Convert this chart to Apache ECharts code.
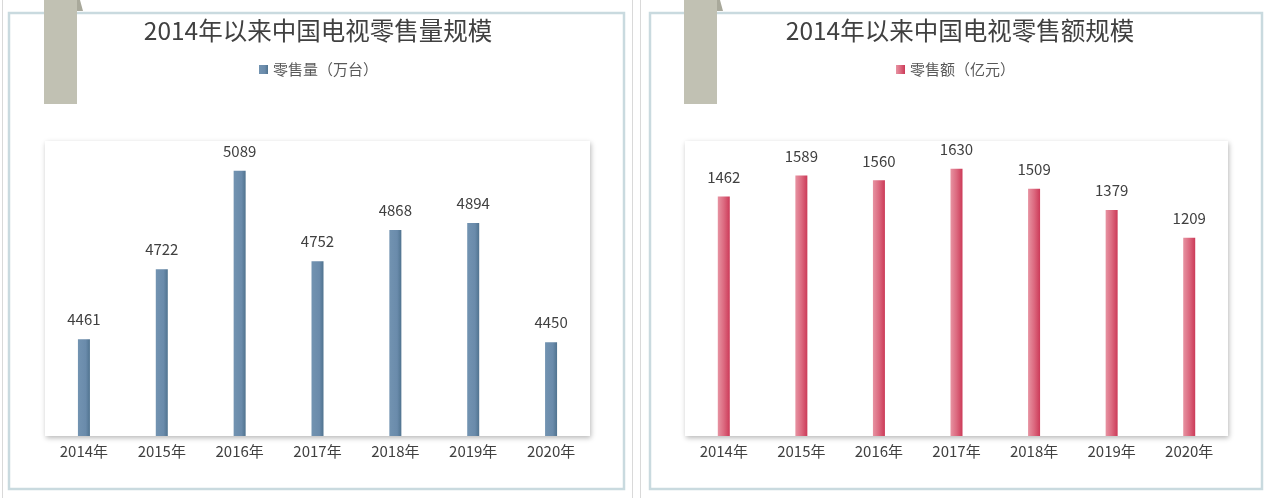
<!DOCTYPE html>
<html>
<head>
<meta charset="utf-8">
<script src="https://cdn.jsdelivr.net/npm/echarts@6/dist/echarts.min.js"></script>
<style>
html,body{margin:0;padding:0;background:#fff;}
#c{width:1269px;height:498px;}
</style>
</head>
<body>
<div id="c"></div>
<script>
var categories = ['2014年','2015年','2016年','2017年','2018年','2019年','2020年'];
var volumeValues = [4461, 4722, 5089, 4752, 4868, 4894, 4450];
var revenueValues = [1462, 1589, 1560, 1630, 1509, 1379, 1209];
var leftTitle = '2014年以来中国电视零售量规模';
var rightTitle = '2014年以来中国电视零售额规模';
var leftSeriesName = '零售量（万台）';
var rightSeriesName = '零售额（亿元）';

var FONT = '"Noto Sans CJK SC", "Noto Sans", sans-serif';
var chart = echarts.init(document.getElementById('c'));

var blueGrad = new echarts.graphic.LinearGradient(0,0,1,0,[
  {offset:0,color:'#7293b1'},{offset:0.65,color:'#6a8bab'},{offset:1,color:'#50738f'}]);
var pinkGrad = new echarts.graphic.LinearGradient(0,0,1,0,[
  {offset:0,color:'#e793a2'},{offset:0.5,color:'#dc6a80'},{offset:1,color:'#cc3a58'}]);

function ribbon(x){
  return [
    {type:'rect',shape:{x:x,y:0,width:33,height:104},style:{fill:'#c1c1b3'},z:10},
    {type:'polygon',shape:{points:[[x+33,0],[x+36,0],[x+39,11],[x+33,11]]},style:{fill:'#a9a99b'},z:10}
  ];
}

var graphics = [
  {type:'line',shape:{x1:2.5,y1:0,x2:2.5,y2:498},style:{stroke:'#d9d9d9',lineWidth:1},z:0},
  {type:'line',shape:{x1:632.5,y1:0,x2:632.5,y2:498},style:{stroke:'#d9d9d9',lineWidth:1},z:0},
  {type:'line',shape:{x1:640.5,y1:0,x2:640.5,y2:498},style:{stroke:'#d9d9d9',lineWidth:1},z:0},
  {type:'rect',shape:{x:9,y:13,width:615,height:476},style:{fill:null,stroke:'#c9dadf',lineWidth:2.5},z:0},
  {type:'rect',shape:{x:650,y:13,width:612,height:476},style:{fill:null,stroke:'#c9dadf',lineWidth:2.5},z:0}
].concat(ribbon(44)).concat(ribbon(684));

var gridStyle = {show:true,backgroundColor:'#fff',borderWidth:0,
  shadowBlur:5,shadowColor:'rgba(0,0,0,0.28)',shadowOffsetX:1,shadowOffsetY:2};

function xAxis(idx){
  return {type:'category',gridIndex:idx,data:categories,
    axisLine:{show:false},axisTick:{show:false},
    axisLabel:{color:'#404040',fontSize:15,fontFamily:FONT,margin:8}};
}

var option = {
  animation:false,
  textStyle:{fontFamily:FONT},
  title:[
    {text:leftTitle,left:313,top:13,textAlign:'center',
      textStyle:{fontSize:24.5,fontWeight:'normal',color:'#404040',fontFamily:FONT}},
    {text:rightTitle,left:955,top:13,textAlign:'center',
      textStyle:{fontSize:24.5,fontWeight:'normal',color:'#404040',fontFamily:FONT}}
  ],
  legend:[
    {data:[leftSeriesName],top:57,itemWidth:9,itemHeight:9,icon:'rect',
      left:254,textStyle:{fontSize:15,color:'#595959',fontFamily:FONT}},
    {data:[rightSeriesName],top:57,itemWidth:9,itemHeight:9,icon:'rect',
      left:891,textStyle:{fontSize:15,color:'#595959',fontFamily:FONT}}
  ],
  grid:[
    Object.assign({left:45,top:141,width:545,height:295},gridStyle),
    Object.assign({left:685,top:141,width:543,height:295},gridStyle)
  ],
  xAxis:[xAxis(0),xAxis(1)],
  yAxis:[
    {type:'value',gridIndex:0,min:4100,max:5200,show:false,splitLine:{show:false}},
    {type:'value',gridIndex:1,min:0,max:1800,show:false,splitLine:{show:false}}
  ],
  series:[
    {name:leftSeriesName,type:'bar',xAxisIndex:0,yAxisIndex:0,data:volumeValues,barWidth:12,
      itemStyle:{color:blueGrad},
      label:{show:true,position:'top',distance:12,color:'#404040',fontSize:15,fontFamily:FONT}},
    {name:rightSeriesName,type:'bar',xAxisIndex:1,yAxisIndex:1,data:revenueValues,barWidth:12,
      itemStyle:{color:pinkGrad},
      label:{show:true,position:'top',distance:12,color:'#404040',fontSize:15,fontFamily:FONT}}
  ],
  graphic:graphics
};
chart.setOption(option);
</script>
</body>
</html>
